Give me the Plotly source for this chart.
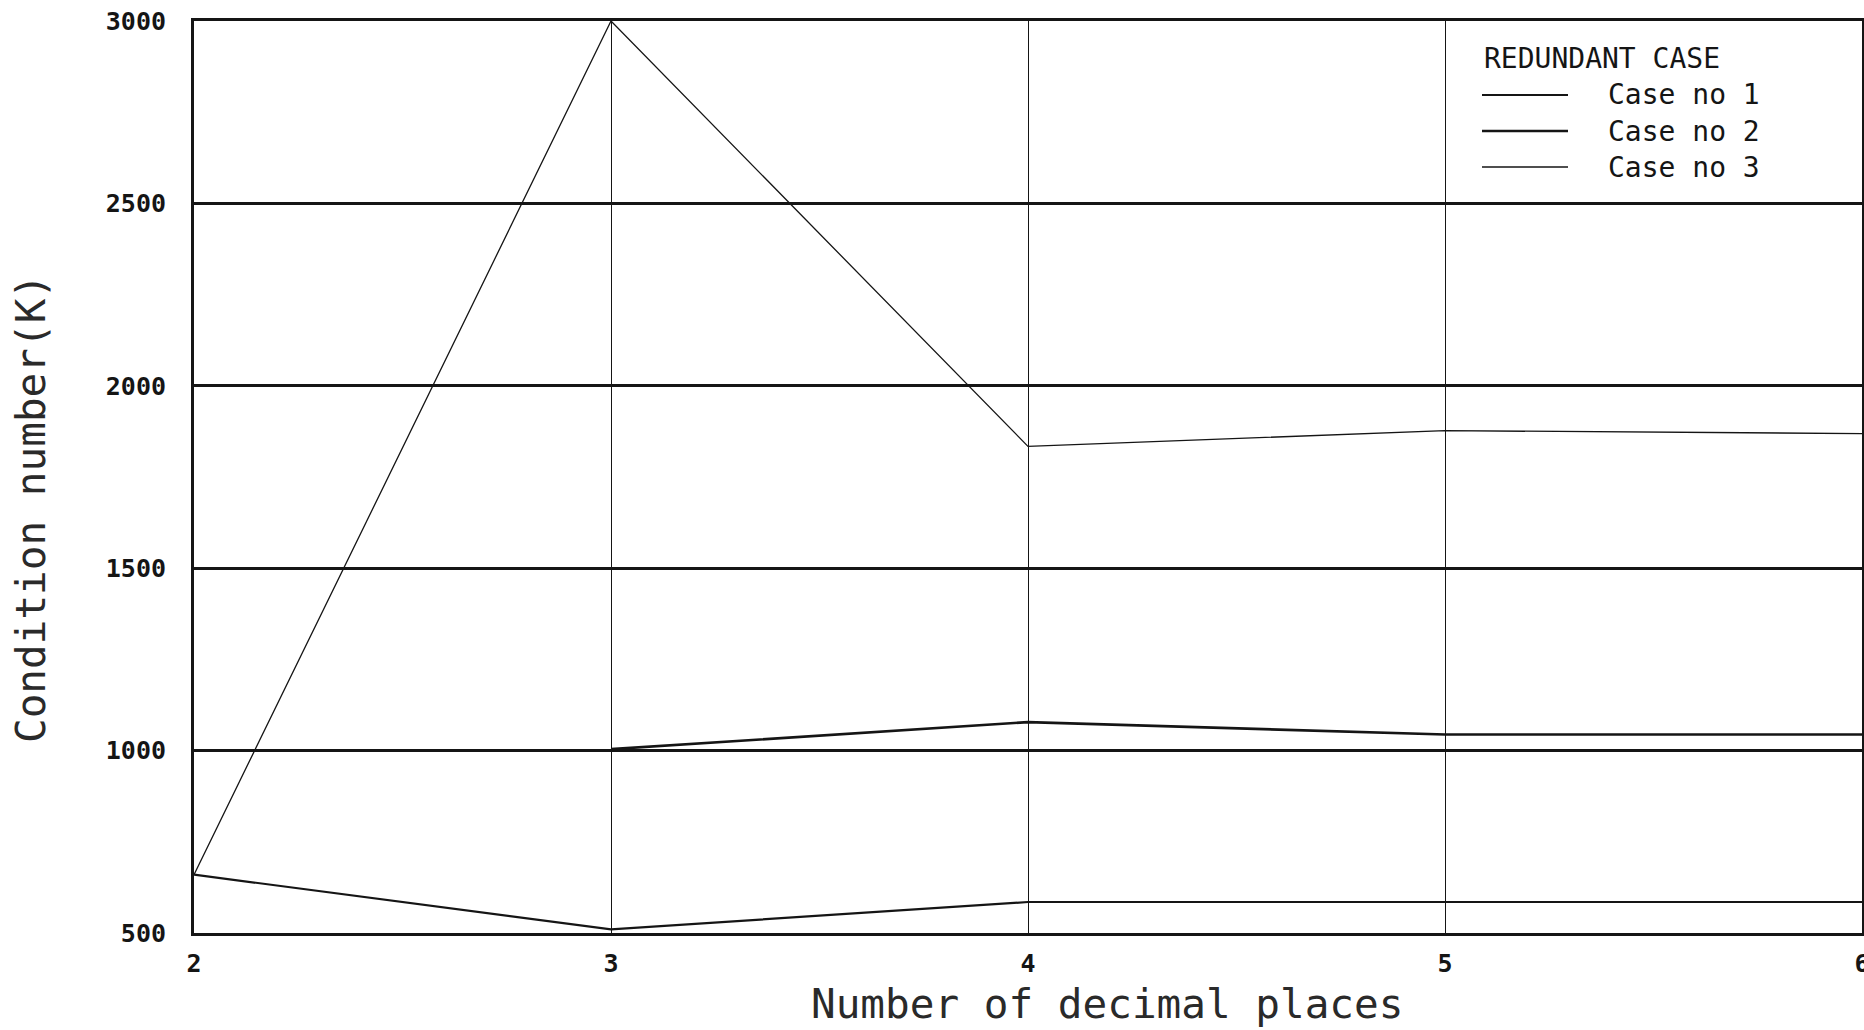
import plotly.graph_objects as go

# Number of decimal places used in the computation
decimal_places = [2, 3, 4, 5, 6]

# Condition number K for each redundant case
case_1 = [660, 510, 585, 585, 585]
case_2 = [None, 1004, 1078, 1044, 1044]
case_3 = [660, 3000, 1834, 1877, 1869]

series_names = ["Case no 1", "Case no 2", "Case no 3"]
legend_title = "REDUNDANT CASE"

y_ticks = [500, 1000, 1500, 2000, 2500, 3000]
x_title = "Number of decimal places"
y_title = "Condition number(K)"

INK = "#151515"
MONO = "DejaVu Sans Mono"
line_widths = [2.2, 2.6, 1.3]

fig = go.Figure()
for name, values, w in zip(series_names, [case_1, case_2, case_3], line_widths):
    fig.add_trace(go.Scatter(
        x=decimal_places, y=values, name=name, mode="lines",
        line=dict(color=INK, width=w), connectgaps=False, showlegend=False,
    ))

W, H = 1864, 1030
L, R, T, B = 194, 2, 21, 97
pw, ph = W - L - R, H - T - B


def px(xp):
    return (xp - L) / pw


def py(yp):
    return (H - B - yp) / ph


legend_font = dict(family=MONO, size=28, color=INK)

annotations = [
    # axis titles
    dict(text=x_title, xref="paper", yref="paper", x=px(1107), y=py(1030),
         xanchor="center", yanchor="bottom", showarrow=False,
         font=dict(family=MONO, size=41, color="#2a2a2a")),
    dict(text=y_title, xref="paper", yref="paper", x=px(31), y=py(509),
         xanchor="center", yanchor="middle", textangle=-90, showarrow=False,
         font=dict(family=MONO, size=41, color="#2a2a2a")),
    # legend block in the top-right grid cell
    dict(text=legend_title, xref="paper", yref="paper", x=px(1482), y=py(59),
         xanchor="left", yanchor="middle", showarrow=False, font=legend_font),
]
shapes = []
for i, (name, w) in enumerate(zip(series_names, line_widths)):
    yc = 95 + 36 * i
    shapes.append(dict(type="line", xref="paper", yref="paper",
                       x0=px(1482), x1=px(1568), y0=py(yc), y1=py(yc),
                       line=dict(color=INK, width=w)))
    annotations.append(dict(
        text=name, xref="paper", yref="paper", x=px(1606), y=py(yc),
        xanchor="left", yanchor="middle", showarrow=False, font=legend_font,
    ))

fig.update_layout(
    width=W, height=H,
    margin=dict(l=L, r=R, t=T, b=B, autoexpand=False),
    paper_bgcolor="white", plot_bgcolor="white",
    shapes=shapes, annotations=annotations,
)

tick_font = dict(family=MONO, size=25, color=INK, weight="bold")

fig.update_xaxes(
    range=[2, 6], tickvals=decimal_places, ticks="", automargin=False,
    showgrid=True, gridcolor=INK, gridwidth=1.4,
    showline=True, linecolor=INK, linewidth=3, mirror=True, zeroline=False,
    tickfont=tick_font, ticklabelstandoff=6, ticklabeloverflow="allow",
)
fig.update_yaxes(
    range=[500, 3000], tickvals=y_ticks, ticks="", automargin=False,
    showgrid=True, gridcolor=INK, gridwidth=2.6,
    showline=True, linecolor=INK, linewidth=3, mirror=True, zeroline=False,
    tickfont=tick_font, ticklabelstandoff=20, ticklabeloverflow="allow",
)

fig.write_html("out.html")
